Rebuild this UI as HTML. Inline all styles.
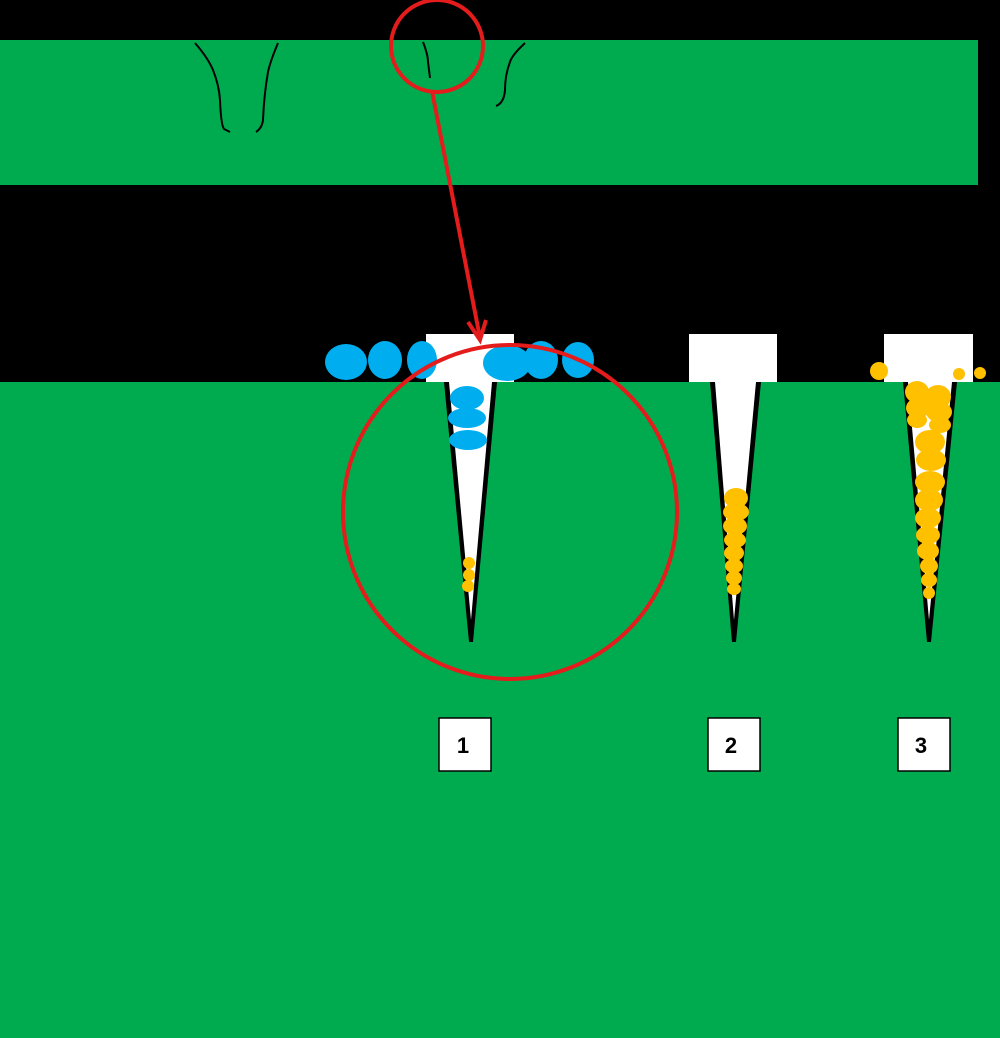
<!DOCTYPE html>
<html><head><style>html,body{margin:0;padding:0;background:#000;}svg{display:block}</style></head><body>
<svg width="1000" height="1038" viewBox="0 0 1000 1038" xmlns="http://www.w3.org/2000/svg">
<rect width="1000" height="1038" fill="#000"/>
<rect x="0" y="40" width="978" height="145" fill="#00ab50"/>
<g fill="none" stroke="#000" stroke-width="2">
<path d="M195,43 Q208,58 213,70 Q219,85 220,100 Q221,125 224,129 L230,132"/>
<path d="M278,43 Q270,62 268,72 Q264,95 263,120 Q262,128 256,132"/>
<path d="M423,42 Q428,55 428,62 L430,78"/>
<path d="M525,43 Q512,55 510,62 Q505,75 505,90 Q504,103 496,106"/>
</g>
<rect x="0" y="382" width="1000" height="656" fill="#00ab50"/>
<rect x="426" y="334" width="88" height="48" fill="#fff"/>
<polygon points="444,382 497,382 473,642 469,642" fill="#000"/>
<polygon points="449,382 492,382 471,620" fill="#fff"/>
<rect x="689" y="334" width="88" height="48" fill="#fff"/>
<polygon points="710,382 761,382 736,642 732,642" fill="#000"/>
<polygon points="715,382 756,382 734,620" fill="#fff"/>
<rect x="884" y="334" width="89" height="48" fill="#fff"/>
<polygon points="903,382 957,382 931,642 927,642" fill="#000"/>
<polygon points="908,382 952,382 929,620" fill="#fff"/>
<g fill="#00aeef">
<ellipse cx="346" cy="362" rx="21" ry="18"/>
<ellipse cx="385" cy="360" rx="17" ry="19"/>
<ellipse cx="422" cy="360" rx="15" ry="19"/>
<ellipse cx="507" cy="363" rx="24" ry="18"/>
<ellipse cx="541" cy="360" rx="17" ry="19"/>
<ellipse cx="578" cy="360" rx="16" ry="18"/>
<ellipse cx="467" cy="398" rx="17" ry="12"/>
<ellipse cx="467" cy="418" rx="19" ry="10"/>
<ellipse cx="468" cy="440" rx="19" ry="10"/>
</g>
<g fill="#ffc000">
<circle cx="469" cy="563" r="6"/><circle cx="469" cy="575" r="6"/><circle cx="468" cy="586" r="6"/>
<ellipse cx="736" cy="498" rx="12" ry="10"/><ellipse cx="736" cy="512" rx="13" ry="9"/>
<ellipse cx="735" cy="526" rx="12" ry="9"/><ellipse cx="735" cy="540" rx="11" ry="8"/>
<ellipse cx="734" cy="553" rx="10" ry="8"/><ellipse cx="734" cy="566" rx="9" ry="7"/>
<ellipse cx="734" cy="578" rx="8" ry="7"/><ellipse cx="734" cy="589" rx="7" ry="6"/>
<circle cx="879" cy="371" r="9"/><circle cx="959" cy="374" r="6"/><circle cx="980" cy="373" r="6"/>
<ellipse cx="917" cy="392" rx="12" ry="11"/><ellipse cx="938" cy="397" rx="13" ry="12"/>
<ellipse cx="918" cy="408" rx="12" ry="10"/><ellipse cx="939" cy="412" rx="13" ry="10"/>
<ellipse cx="917" cy="420" rx="10" ry="8"/><ellipse cx="940" cy="425" rx="11" ry="8"/>
<ellipse cx="930" cy="442" rx="15" ry="12"/><ellipse cx="931" cy="460" rx="15" ry="11"/>
<ellipse cx="930" cy="482" rx="15" ry="11"/><ellipse cx="929" cy="500" rx="14" ry="11"/>
<ellipse cx="928" cy="518" rx="13" ry="10"/><ellipse cx="928" cy="535" rx="12" ry="9"/>
<ellipse cx="928" cy="551" rx="11" ry="9"/><ellipse cx="929" cy="566" rx="9" ry="8"/>
<ellipse cx="929" cy="580" rx="8" ry="7"/><ellipse cx="929" cy="593" rx="6" ry="6"/>
</g>
<g fill="none" stroke="#e41c1c" stroke-width="4">
<circle cx="437" cy="46" r="46"/>
<circle cx="510" cy="512" r="167"/>
<line x1="432" y1="91" x2="480" y2="338"/>
<polyline points="468,322 480,340 486,320"/>
</g>
<g font-family="Liberation Sans, sans-serif" font-weight="bold" font-size="22" text-anchor="middle">
<rect x="439" y="718" width="52" height="53" fill="#fff" stroke="#000" stroke-width="1.5"/>
<text x="463" y="753">1</text>
<rect x="708" y="718" width="52" height="53" fill="#fff" stroke="#000" stroke-width="1.5"/>
<text x="731" y="753">2</text>
<rect x="898" y="718" width="52" height="53" fill="#fff" stroke="#000" stroke-width="1.5"/>
<text x="921" y="753">3</text>
</g>
</svg>
</body></html>
